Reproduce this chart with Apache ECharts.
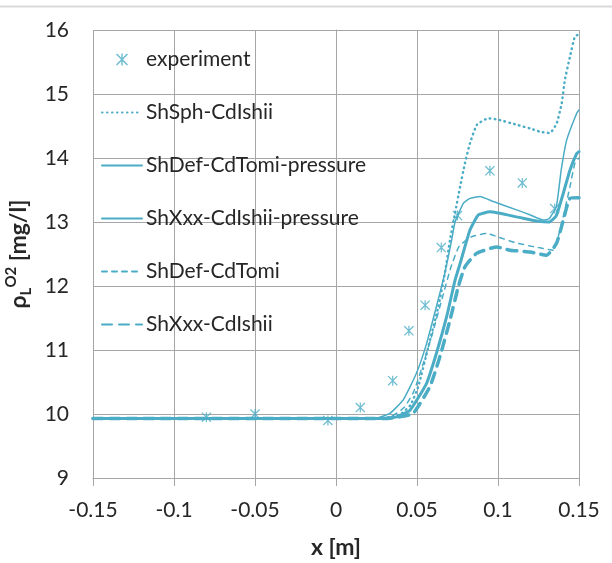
<!DOCTYPE html>
<html>
<head>
<meta charset="utf-8">
<script src="https://cdn.jsdelivr.net/npm/echarts@6/dist/echarts.min.js"></script>
<style>
  html, body { margin: 0; padding: 0; background: #fff; }
</style>
</head>
<body>
<div id="main" style="width: 612px; height: 563px"></div>
<script>
const COLOR = '#4bacc6'

const seriesNames = [
  'experiment',
  'ShSph-CdIshii',
  'ShDef-CdTomi-pressure',
  'ShXxx-CdIshii-pressure',
  'ShDef-CdTomi',
  'ShXxx-CdIshii'
]

const experiment = [
  [-0.08, 9.95], [-0.05, 10.0], [-0.005, 9.9], [0.015, 10.1], [0.035, 10.52],
  [0.045, 11.3], [0.055, 11.7], [0.065, 12.6], [0.075, 13.1], [0.095, 13.8],
  [0.115, 13.61], [0.135, 13.21]
]

const shSphCdIshii = [
  [-0.15, 9.93], [0.025, 9.93], [0.033, 9.95], [0.04, 10.0], [0.046, 10.14],
  [0.0508, 10.43], [0.057, 11.05], [0.0632, 11.68], [0.0672, 12.2], [0.0704, 12.72],
  [0.0735, 13.14], [0.0766, 13.55], [0.0796, 13.92], [0.0827, 14.23], [0.087, 14.52],
  [0.094, 14.62], [0.1, 14.6], [0.1115, 14.52], [0.12, 14.46], [0.126, 14.41],
  [0.132, 14.39], [0.1362, 14.54], [0.1393, 14.85], [0.1413, 15.22], [0.1444, 15.58],
  [0.1475, 15.9], [0.15, 15.93]
]

const shDefCdTomiPressure = [
  [-0.15, 9.93], [0.024, 9.93], [0.027, 9.95], [0.0333, 10.01], [0.0415, 10.22],
  [0.0497, 10.64], [0.0559, 11.1], [0.062, 11.68], [0.0672, 12.2], [0.0714, 12.72],
  [0.0735, 13.0], [0.0786, 13.29], [0.0827, 13.37], [0.0889, 13.4], [0.0971, 13.32],
  [0.1115, 13.19], [0.12, 13.11], [0.128, 13.03], [0.1315, 13.05], [0.136, 13.24],
  [0.139, 13.81], [0.1424, 14.28], [0.1486, 14.7], [0.15, 14.75]
]

const shXxxCdIshiiPressure = [
  [-0.15, 9.93], [0.03, 9.93], [0.038, 9.96], [0.0457, 10.06], [0.0559, 10.48],
  [0.062, 10.95], [0.0683, 11.52], [0.0735, 12.09], [0.0766, 12.35], [0.0827, 12.875],
  [0.0879, 13.11], [0.095, 13.16], [0.1115, 13.08], [0.125, 13.01], [0.1315, 13.0],
  [0.136, 13.1], [0.1403, 13.45], [0.1444, 13.81], [0.1486, 14.07], [0.15, 14.1]
]

const shDefCdTomi = [
  [-0.15, 9.93], [0.027, 9.93], [0.034, 9.96], [0.042, 10.1], [0.048, 10.35],
  [0.054, 10.8], [0.06, 11.3], [0.066, 11.85], [0.071, 12.3], [0.076, 12.62],
  [0.0837, 12.77], [0.093, 12.82], [0.103, 12.74], [0.1115, 12.67], [0.125, 12.6],
  [0.134, 12.56], [0.1393, 12.98], [0.1444, 13.55], [0.1475, 13.92], [0.15, 14.0]
]

const shXxxCdIshii = [
  [-0.15, 9.93], [0.032, 9.93], [0.04, 9.96], [0.0477, 10.01], [0.058, 10.43],
  [0.0642, 10.9], [0.0704, 11.47], [0.0755, 11.99], [0.0796, 12.3], [0.0868, 12.51],
  [0.0992, 12.61], [0.1074, 12.56], [0.12, 12.53], [0.13, 12.48], [0.1362, 12.67],
  [0.1403, 13.03], [0.1444, 13.37], [0.15, 13.38]
]

// asterisk marker: X plus vertical bar
const STAR = 'path://M4.4 0L5.6 0L5.6 10L4.4 10Z M0 0.9L0.9 0L10 9.1L9.1 10Z M9.1 0L10 0.9L0.9 10L0 9.1Z'

const FONT = 'Lato'
const GRID_COLOR = '#a6a6a6'
const TEXT_COLOR = '#262626'

function lineSeries(name, data, width, type) {
  return {
    name: name,
    type: 'line',
    data: data,
    smooth: 0.15,
    symbol: 'none',
    lineStyle: { color: COLOR, width: width, type: type, cap: 'round' },
    itemStyle: { color: COLOR }
  }
}

const myChart = echarts.init(document.getElementById('main'))
myChart.setOption({
  animation: false,
  textStyle: { fontFamily: FONT },
  grid: { left: 93, right: 33, top: 30, bottom: 85, outerBoundsMode: 'none' },
  graphic: [{
    type: 'line',
    shape: { x1: 0, y1: 6.5, x2: 612, y2: 6.5 },
    style: { stroke: '#d9d9d9', lineWidth: 2 }
  }],
  legend: {
    orient: 'vertical',
    left: 96,
    top: 44,
    itemWidth: 40,
    itemHeight: 12,
    itemGap: 32,
    textStyle: { fontFamily: FONT, fontSize: 21, color: TEXT_COLOR, padding: [0, 0, 0, -1] },
    data: seriesNames.map(n => n === 'experiment'
      ? { name: n }
      : { name: n, itemStyle: { opacity: 0 } })
  },
  xAxis: {
    type: 'value',
    min: -0.15,
    max: 0.15,
    interval: 0.05,
    name: 'x [m]',
    nameLocation: 'middle',
    nameGap: 58,
    nameTextStyle: { fontFamily: FONT, fontSize: 23, fontWeight: 'bold', color: TEXT_COLOR },
    axisLine: { lineStyle: { color: GRID_COLOR } },
    axisTick: { show: true, length: 8, lineStyle: { color: GRID_COLOR } },
    axisLabel: {
      fontSize: 21, color: TEXT_COLOR, margin: 22,
      formatter: v => String(Math.round(v * 100) / 100)
    },
    splitLine: { lineStyle: { color: GRID_COLOR, width: 1 } }
  },
  yAxis: {
    type: 'value',
    min: 9,
    max: 16,
    interval: 1,
    name: '{b|ρ}{sub|L}{sup|O2}{b| [mg/l]}',
    nameLocation: 'middle',
    nameRotate: 90,
    nameGap: 54,
    nameTextStyle: {
      rich: {
        b: { fontFamily: FONT, fontSize: 23, fontWeight: 'bold', color: TEXT_COLOR, lineHeight: 30, verticalAlign: 'middle' },
        sub: { fontFamily: FONT, fontSize: 15, fontWeight: 'bold', color: TEXT_COLOR, lineHeight: 30, verticalAlign: 'bottom', padding: [12, 0, 0, 0] },
        sup: { fontFamily: FONT, fontSize: 15, fontWeight: 'bold', color: TEXT_COLOR, lineHeight: 30, verticalAlign: 'top', padding: [0, 0, 12, 0] }
      }
    },
    axisLine: { show: true, lineStyle: { color: GRID_COLOR } },
    axisTick: { show: true, length: 8, lineStyle: { color: GRID_COLOR } },
    axisLabel: { fontSize: 21, color: TEXT_COLOR, margin: 24 },
    splitLine: { lineStyle: { color: GRID_COLOR, width: 1 } }
  },
  series: [
    {
      name: 'experiment',
      type: 'scatter',
      data: experiment,
      symbol: STAR,
      symbolSize: 10,
      itemStyle: { color: COLOR },
      z: 5
    },
    lineSeries('ShSph-CdIshii', shSphCdIshii, 2.5, [0.5, 4.5]),
    lineSeries('ShDef-CdTomi-pressure', shDefCdTomiPressure, 1.5, 'solid'),
    lineSeries('ShXxx-CdIshii-pressure', shXxxCdIshiiPressure, 3, 'solid'),
    lineSeries('ShDef-CdTomi', shDefCdTomi, 1.5, [5, 5]),
    lineSeries('ShXxx-CdIshii', shXxxCdIshii, 3.5, [10, 7])
  ]
})
</script>
</body>
</html>
